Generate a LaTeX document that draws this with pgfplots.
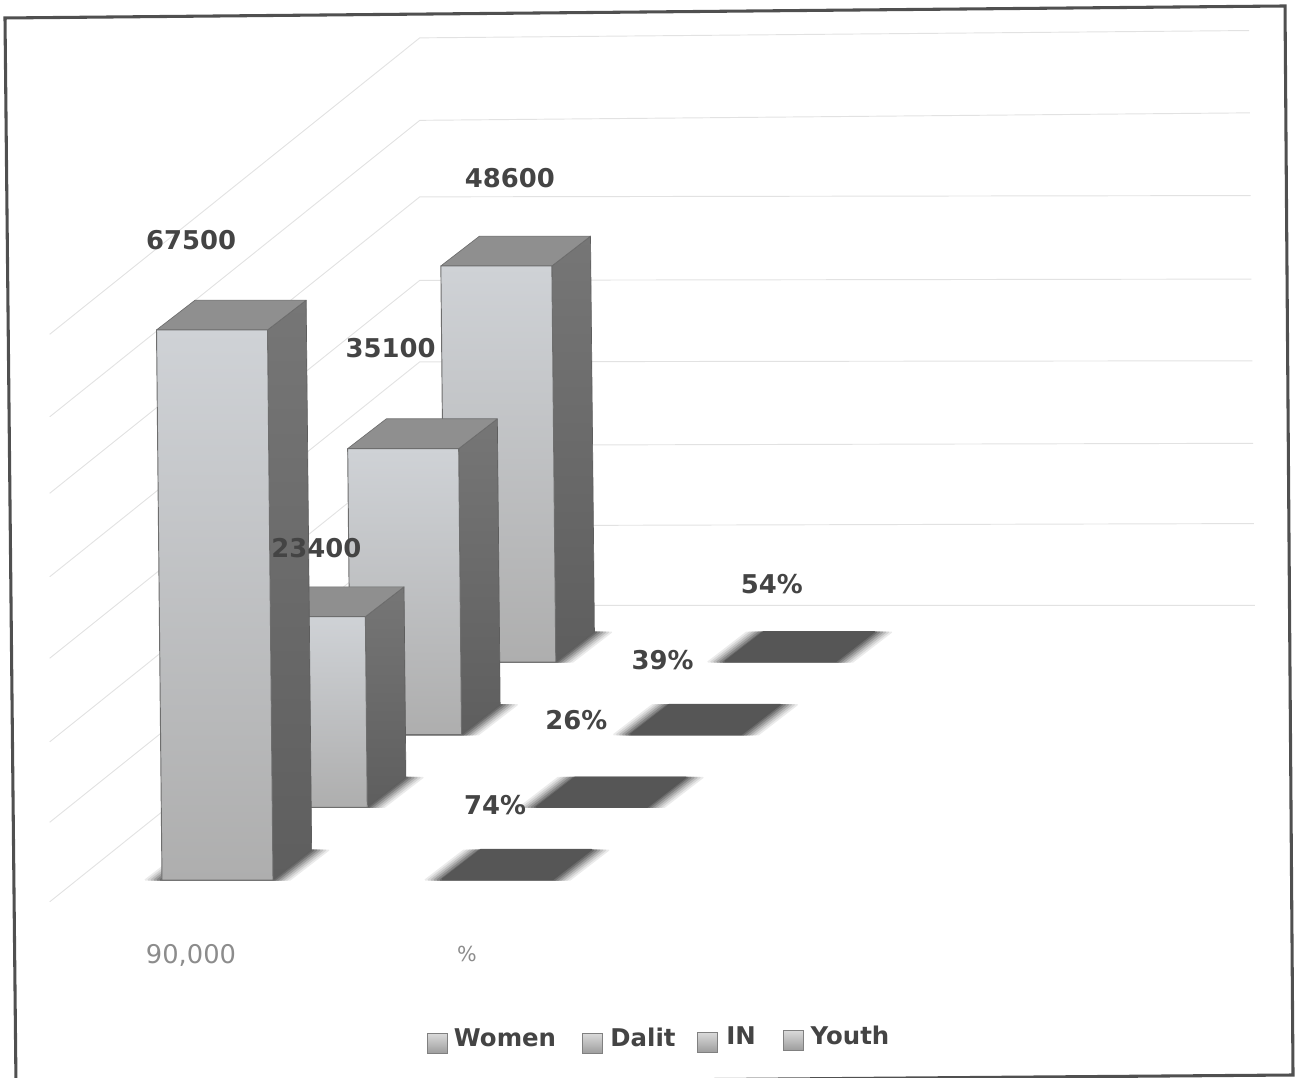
\documentclass[border=0pt]{standalone}
\usepackage{fontspec}
\setmainfont{DejaVu Sans}
\usepackage{pgfplots}
\pgfplotsset{compat=1.18}

\definecolor{gridline}{HTML}{E2E2E2}
\definecolor{frameline}{HTML}{505050}
\definecolor{frontlight}{HTML}{CFD2D6}
\definecolor{frontdark}{HTML}{AEAEAE}
\definecolor{sidelight}{HTML}{767676}
\definecolor{sidedark}{HTML}{5E5E5E}
\definecolor{topface}{HTML}{8F8F8F}
\definecolor{edgeline}{HTML}{6E6E6E}
\definecolor{plate}{HTML}{565656}
\definecolor{labeltext}{HTML}{444444}
\definecolor{cattext}{HTML}{8C8C8C}

% one cuboid: x from, x to, row from, row to, value
\newcommand{\drawbar}[5]{%
  \addplot3[forget plot,draw=sidedark,line width=.5pt,line join=round,top color=sidelight,bottom color=sidedark]
    coordinates {(#2,#3,0) (#2,#4,0) (#2,#4,#5) (#2,#3,#5) (#2,#3,0)};
  \addplot3[forget plot,draw=edgeline,line width=.5pt,line join=round,fill=topface]
    coordinates {(#1,#3,#5) (#2,#3,#5) (#2,#4,#5) (#1,#4,#5) (#1,#3,#5)};
  \addplot3[forget plot,draw=edgeline,line width=.7pt,line join=round,top color=frontlight,bottom color=frontdark]
    coordinates {(#1,#3,0) (#2,#3,0) (#2,#3,#5) (#1,#3,#5) (#1,#3,0)};
}
% flat parallelogram on the floor at a given height
\newcommand{\drawplate}[6]{%
  \addplot3[forget plot,draw=#6,fill=#6,line width=1pt,line join=round]
    coordinates {(#1,#3,#5) (#2,#3,#5) (#2,#4,#5) (#1,#4,#5) (#1,#3,#5)};
}
% soft floor shadow, stepping from pale to dark
\newcommand{\shadowA}[2]{%
  \drawplate{145}{290}{#1}{#2}{0}{black!8}
  \drawplate{148}{287}{#1}{#2}{0}{black!16}
  \drawplate{151}{284}{#1}{#2}{0}{black!26}
  \drawplate{154}{281}{#1}{#2}{0}{black!37}
  \drawplate{157}{278}{#1}{#2}{0}{black!48}
  \drawplate{160}{275}{#1}{#2}{0}{black!58}
}
\newcommand{\shadowB}[2]{%
  \drawplate{425}{570}{#1}{#2}{0}{black!8}
  \drawplate{428}{567}{#1}{#2}{0}{black!16}
  \drawplate{431}{564}{#1}{#2}{0}{black!26}
  \drawplate{434}{561}{#1}{#2}{0}{black!37}
  \drawplate{437}{558}{#1}{#2}{0}{black!48}
  \drawplate{440}{555}{#1}{#2}{0}{black!58}
}
% label: anchor point x, row, value, offset in px, text
\newcommand{\barlabel}[6]{%
  \node[text=labeltext,font=\fontsize{19.4}{22}\selectfont\bfseries,
        shift={(#4*0.75pt,#5*0.75pt)}] at (axis cs:#1,#2,#3) {#6};
}
% floor-to-wall gridline: height at corner, height at right end, x at left end, x at corner
\newcommand{\gridlevel}[4]{%
  \addplot3[forget plot,draw=gridline,line width=.7pt]
    coordinates {(#3,-0.30,#1) (#4,3.78,#1) (898.4,3.78,#2)};
}

\begin{document}
\begin{tikzpicture}
\path[use as bounding box] (0,0) rectangle (975.75pt,807.75pt);
\begin{axis}[
  anchor=origin, at={(0pt,147.75pt)},
  disabledatascaling,
  % heights run along z in thousands
  z coord trafo/.code={\pgfmathfloatparsenumber{#1}\pgfmathfloatshift{\pgfmathresult}{-3}\pgfmathfloattofixed{\pgfmathresult}},
  x={(0.75pt,0pt)}, y={(70.7pt,54.5pt)}, z={(-0.061pt,6.112pt)},
  xmin=0, xmax=1301, ymin=-1, ymax=5, zmin=0, zmax=90000,
  hide axis, clip=false,
]
% gridlines, about one per 10000
\gridlevel{0}{0}{78}{63.5}
\gridlevel{9755}{10030}{78.8}{64.3}
\gridlevel{19630}{19880}{79.6}{65.1}
\gridlevel{29880}{30005}{80.4}{65.9}
\gridlevel{39880}{40030}{81.2}{66.7}
\gridlevel{50120}{50280}{82}{67.5}
\gridlevel{59510}{60430}{82.8}{68.3}
\gridlevel{69630}{70530}{83.6}{69.1}

% percent group, far row first
\shadowB{3}{3.41} \drawplate{442}{553}{3}{3.41}{54}{plate}
\shadowB{2}{2.41} \drawplate{442}{553}{2}{2.41}{39}{plate}
\shadowB{1}{1.41} \drawplate{442}{553}{1}{1.41}{26}{plate}
\shadowB{0}{0.41} \drawplate{442}{553}{0}{0.41}{74}{plate}

% 90,000 group, far row first
\shadowA{3}{3.41} \drawbar{162}{273}{3}{3.41}{48600}
\shadowA{2}{2.41} \drawbar{162}{273}{2}{2.41}{35100}
\shadowA{1}{1.41} \drawbar{162}{273}{1}{1.41}{23400}
\shadowA{0}{0.41} \drawbar{162}{273}{0}{0.41}{67500}

% value labels
\barlabel{162}{0}{67500}{34.5}{90}{67500}
\barlabel{162}{1}{23400}{62}{69}{23400}
\barlabel{162}{2}{35100}{43}{101}{35100}
\barlabel{162}{3}{48600}{69}{88}{48600}
\barlabel{442}{0}{74}{53}{74}{74\%}
\barlabel{442}{1}{26}{40}{87}{26\%}
\barlabel{442}{2}{39}{32}{74}{39\%}
\barlabel{442}{3}{54}{47}{77}{54\%}

% category names
\node[text=cattext,font=\fontsize{19.3}{22}\selectfont,shift={(29*0.75pt,-75*0.75pt)}] at (axis cs:162,0,0) {90,000};
\node[text=cattext,font=\fontsize{15.5}{17}\selectfont,shift={(25*0.75pt,-74*0.75pt)}] at (axis cs:442,0,0) {\%};
\end{axis}

% everything below is placed in image units, origin at the top left
\begin{scope}[shift={(0pt,807.75pt)},x=0.75pt,y=-0.75pt]
  \draw[frameline,line width=2.3pt,line join=miter] (5,18) -- (1285,6) -- (1293,1075) -- (16,1085) -- cycle;
  \foreach \sx/\sy in {427/1033,582/1033,697/1032,783/1030}{
    \draw[draw=black!50,line width=.5pt,top color=black!14,bottom color=black!38]
      (\sx,\sy) rectangle ++(20,20);
  }
  \tikzset{legendtext/.style={text=labeltext,font=\fontsize{18.3}{20}\selectfont\bfseries}}
  \node[legendtext] at (505,1038) {Women};
  \node[legendtext] at (643,1037) {Dalit};
  \node[legendtext] at (741,1036) {IN};
  \node[legendtext] at (850,1035) {Youth};
\end{scope}
\end{tikzpicture}
\end{document}
